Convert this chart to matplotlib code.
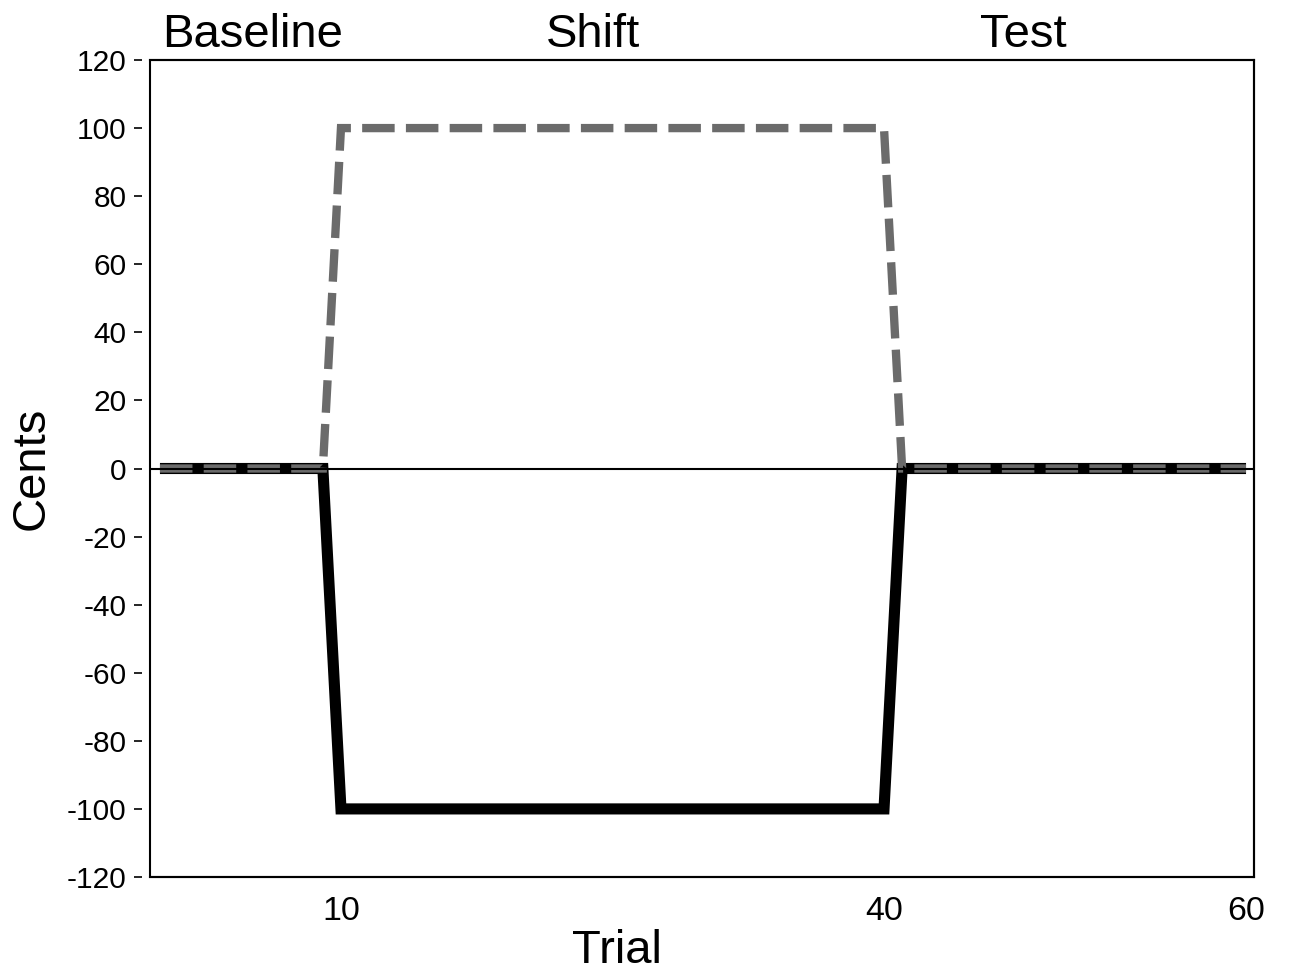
import matplotlib
matplotlib.use('Agg')
import matplotlib.pyplot as plt
import matplotlib.transforms as mtransforms

plt.rcParams['font.family'] = ['Liberation Sans', 'DejaVu Sans']
plt.rcParams['axes.unicode_minus'] = False

# corner points of the two pitch traces (trial, cents)
trials = [0, 9, 10, 40, 41, 60]
shift_cents = [0, 0, 100, 100, 0, 0]
response_cents = [0, 0, -100, -100, 0, 0]

xticks = [10, 40, 60]
yticks = list(range(-120, 121, 20))

phase_names = ['Baseline', 'Shift', 'Test']
phase_pos = [5.1, 23.9, 47.7]

fig = plt.figure(figsize=(12.89, 9.75), dpi=100)
ax = fig.add_axes([150/1289, 1-877/975, 1104/1289, 817/975])

ax.plot(trials, response_cents, color='black', lw=8, solid_capstyle='butt',
        solid_joinstyle='miter', zorder=2)
ax.plot(trials, shift_cents, color='#6b6b6b', lw=6, dashes=(3.9, 1.35),
        dash_capstyle='butt', dash_joinstyle='miter', zorder=3)
ax.axhline(0, color='black', lw=1.5, zorder=4)

ax.set_xlim(-0.55, 60.44)
ax.set_ylim(-120, 120)
ax.set_xticks(xticks)
ax.set_yticks(yticks)
ax.tick_params(axis='x', length=0, pad=14, labelsize=24.5)
ax.tick_params(axis='y', length=6, width=1.2, pad=5, labelsize=21.5)

# left ticks sit a little away from the frame
ax.spines['left'].set_position(('outward', 6))
ax.spines['left'].set_visible(False)
for s in ['top', 'right', 'bottom']:
    ax.spines[s].set_linewidth(1.5)
ax.patch.set_edgecolor('black')
ax.patch.set_linewidth(1.5)

trans = mtransforms.blended_transform_factory(ax.transData, ax.transAxes)
for name, xp in zip(phase_names, phase_pos):
    ax.text(xp, 1.016, name, transform=trans, ha='center', va='baseline', fontsize=34)

ax.set_xlabel('Trial', fontsize=34)
ax.xaxis.set_label_coords(0.423, -0.105)
ax.xaxis.label.set_verticalalignment('baseline')
ax.set_ylabel('Cents', fontsize=34)
ax.yaxis.set_label_coords(-0.107, 0.5)
ax.yaxis.label.set_verticalalignment('center')

plt.savefig('out.png', dpi=100)
